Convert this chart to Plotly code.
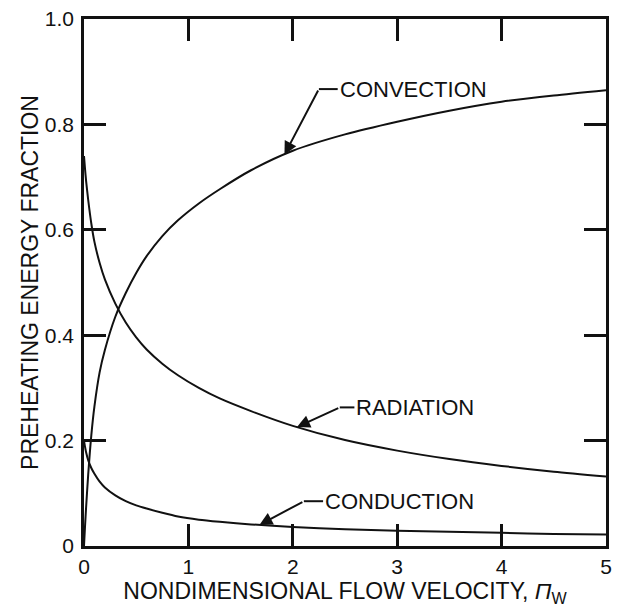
import numpy as np
import plotly.graph_objects as go

# Data
x_vals = [0, 0.01, 0.02, 0.04, 0.07, 0.1, 0.15, 0.2, 0.3, 0.4, 0.5, 0.6,
          0.75, 0.9, 1.1, 1.3, 1.6, 2.0, 2.5, 3.0, 3.5, 4.0, 4.5, 5.0]
convection = [0, 0.038, 0.073, 0.135, 0.21, 0.265, 0.33, 0.372, 0.435, 0.48, 0.518, 0.55,
              0.588, 0.618, 0.65, 0.677, 0.713, 0.75, 0.781, 0.805, 0.826, 0.843, 0.855, 0.865]
radiation = [0.74, 0.715, 0.693, 0.657, 0.612, 0.577, 0.537, 0.506, 0.46, 0.424, 0.396, 0.373,
             0.346, 0.324, 0.3, 0.28, 0.256, 0.228, 0.201, 0.181, 0.165, 0.152, 0.141, 0.132]
conduction = [0.2, 0.188, 0.178, 0.163, 0.148, 0.137, 0.122, 0.111, 0.096, 0.085, 0.077, 0.071,
              0.063, 0.056, 0.05, 0.046, 0.041, 0.036, 0.032, 0.029, 0.027, 0.025, 0.023, 0.022]

x_ticks = [0, 1, 2, 3, 4, 5]
y_ticks = [0, 0.2, 0.4, 0.6, 0.8, 1.0]
y_ticktext = ["0", "0.2", "0.4", "0.6", "0.8", "1.0"]

FONT = "Liberation Sans, Arial, Helvetica, sans-serif"
INK = "#111111"

fig = go.Figure()
for name, ys in [("CONVECTION", convection), ("RADIATION", radiation), ("CONDUCTION", conduction)]:
    fig.add_trace(go.Scatter(x=x_vals, y=ys, mode="lines", name=name,
                             line=dict(color=INK, width=2, shape="spline", smoothing=0.7),
                             showlegend=False, hoverinfo="skip"))

# Label callouts: (label, series, arrow tip x, bend point, leader end x, text start x)
callouts = [
    ("CONVECTION", convection, 1.92, (2.25, 0.867), 2.43, 2.44),
    ("RADIATION", radiation, 2.04, (2.45, 0.263), 2.59, 2.60),
    ("CONDUCTION", conduction, 1.68, (2.106, 0.085), 2.29, 2.30),
]
for label, ys, tipx, (bx, by), lx, tx in callouts:
    tipy = float(np.interp(tipx, x_vals, ys))
    fig.add_annotation(x=tipx, y=tipy, ax=bx, ay=by, axref="x", ayref="y",
                       xref="x", yref="y", text="", showarrow=True,
                       arrowhead=2, arrowsize=1.3, arrowwidth=2, arrowcolor=INK,
                       standoff=0, startstandoff=0)
    fig.add_shape(type="line", x0=bx, y0=by, x1=lx, y1=by, xref="x", yref="y",
                  line=dict(color=INK, width=2))
    fig.add_annotation(x=tx, y=by, xref="x", yref="y", text=label, showarrow=False,
                       xanchor="left", yanchor="middle", borderpad=0,
                       font=dict(family=FONT, size=22, color=INK))

axis_common = dict(
    showline=True, linecolor=INK, linewidth=2.5, mirror="ticks",
    ticks="inside", ticklen=22, tickwidth=2.5, tickcolor=INK,
    showgrid=False, zeroline=False,
    tickfont=dict(family=FONT, size=21, color=INK),
)

fig.update_xaxes(range=[0, 5], tickvals=x_ticks, **axis_common,
                 title=dict(text="NONDIMENSIONAL FLOW VELOCITY, <i>Π</i><sub>W</sub>",
                            font=dict(family=FONT, size=23, color=INK), standoff=6))
fig.update_yaxes(range=[0, 1], tickvals=y_ticks, ticktext=y_ticktext, **axis_common,
                 ticklabelstandoff=3,
                 title=dict(text="PREHEATING ENERGY FRACTION",
                            font=dict(family=FONT, size=23, color=INK), standoff=0))

fig.update_layout(width=618, height=610,
                  margin=dict(l=84, r=6, t=19, b=64),
                  paper_bgcolor="white", plot_bgcolor="white")

fig.write_html("out.html")
